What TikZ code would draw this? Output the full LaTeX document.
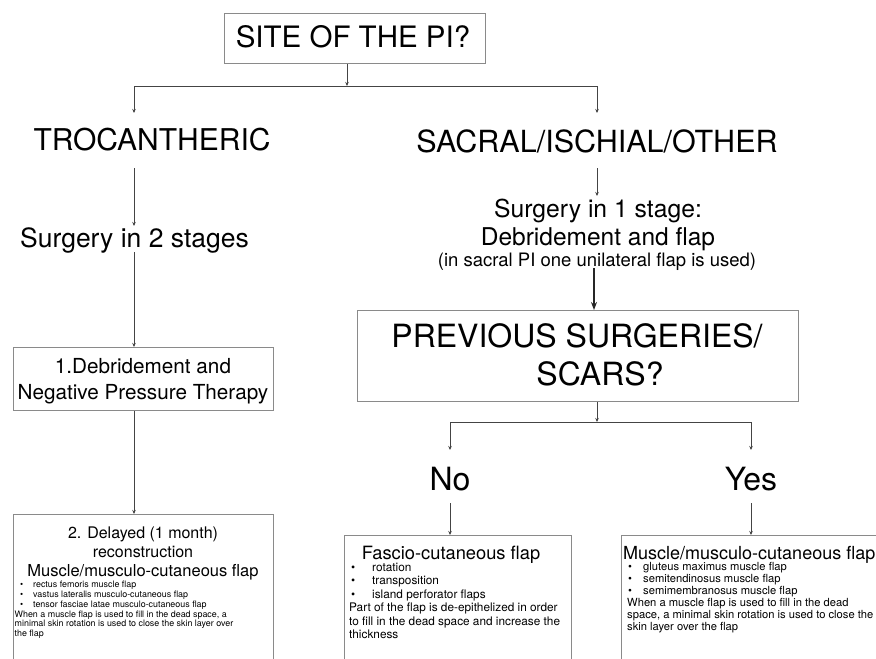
\documentclass[tikz,border=0pt]{standalone}
\usepackage{fontspec}
\setmainfont{TeX Gyre Heros}
\usetikzlibrary{arrows.meta}
\definecolor{linec}{HTML}{444444}
\definecolor{boxc}{HTML}{8A8A8A}
\tikzset{
  boxnode/.style={draw=boxc, line width=1.3pt, fill=white, inner sep=0pt},
  arr/.style={draw=linec, line width=0.9pt, -{Stealth[length=4pt,width=3.5pt]}},
  lin/.style={draw=linec, line width=0.9pt},
  bigarr/.style={draw=black!85, line width=1.4pt, -{Stealth[length=8pt,width=6pt]}},
  txt/.style={inner sep=0pt, anchor=base},
  lst/.style={inner sep=0pt, anchor=north west, align=left},
}
\newcommand{\bl}[2]{\makebox[#1][l]{\textbullet}#2}
\begin{document}
\begin{tikzpicture}[x=1pt,y=-1pt]
\useasboundingbox (0,0) rectangle (876,659);
\clip (0,0) rectangle (876,659);
\fill[white] (0,0) rectangle (876,659);

% boxes
\node[boxnode, minimum width=261pt, minimum height=50pt, anchor=north west] (site) at (224,13) {};
\node[txt, font=\fontsize{29.5}{35}\selectfont] (sitet) at (353,47) {SITE OF THE PI?};

\node[txt, font=\fontsize{30}{36}\selectfont] (troc) at (152,150) {TROCANTHERIC};
\node[txt, font=\fontsize{30.5}{36}\selectfont] (sacral) at (597,152) {SACRAL/ISCHIAL/OTHER};

\node[txt, font=\fontsize{26.5}{30}\selectfont] (surg2) at (134.5,247) {Surgery in 2 stages};
\node[txt, font=\fontsize{24.7}{29}\selectfont] (surg1) at (598,217) {Surgery in 1 stage:};
\node[txt, font=\fontsize{24.5}{29}\selectfont] (debfl) at (598,245) {Debridement and flap};
\node[txt, font=\fontsize{18.5}{22}\selectfont] (insac) at (597,266) {(in sacral PI one unilateral flap is used)};

\node[boxnode, minimum width=260pt, minimum height=63pt, anchor=north west] (b1) at (13,347) {};
\node[txt, font=\fontsize{20.7}{24}\selectfont] (b1a) at (143,373) {1.Debridement and};
\node[txt, font=\fontsize{20.7}{24}\selectfont] (b1b) at (143,399) {Negative Pressure Therapy};

\node[boxnode, minimum width=441pt, minimum height=91pt, anchor=north west] (prev) at (357,310) {};
\node[txt, font=\fontsize{32}{38}\selectfont] (preva) at (577,347) {PREVIOUS SURGERIES/};
\node[txt, font=\fontsize{32}{38}\selectfont] (prevb) at (600,385) {SCARS?};

\node[txt, font=\fontsize{32}{38}\selectfont] (no) at (450,490) {No};
\node[txt, font=\fontsize{32}{38}\selectfont] (yes) at (751,490) {Yes};

% bottom boxes (cut off by the page)
\node[boxnode, minimum width=260pt, minimum height=160pt, anchor=north west] (b2) at (13,514) {};
\node[txt, font=\fontsize{16}{19}\selectfont] (b2a) at (143,538) {2. Delayed (1 month)};
\node[txt, font=\fontsize{16}{19}\selectfont] (b2b) at (143,557) {reconstruction};
\node[txt, font=\fontsize{16.5}{19}\selectfont] (b2c) at (143,576) {Muscle/musculo-cutaneous flap};
\node[lst, font=\fontsize{8.9}{9.8}\selectfont] (b2l) at (14.5,581) {%
\hspace*{5.5pt}\bl{13pt}{rectus femoris muscle flap}\\
\hspace*{5.5pt}\bl{13pt}{vastus lateralis musculo-cutaneous flap}\\
\hspace*{5.5pt}\bl{13pt}{tensor fasciae latae musculo-cutaneous flap}\\
When a muscle flap is used to fill in the dead space, a\\
minimal skin rotation is used to close the skin layer over\\
the flap};

\node[boxnode, minimum width=227pt, minimum height=140pt, anchor=north west] (fc) at (344,535) {};
\node[txt, font=\fontsize{18.3}{22}\selectfont] (fct) at (451,559) {Fascio-cutaneous flap};
\node[lst, font=\fontsize{11.8}{13.4}\selectfont] (fcl) at (349,563) {%
\hspace*{2pt}\bl{21pt}{rotation}\\
\hspace*{2pt}\bl{21pt}{transposition}\\
\hspace*{2pt}\bl{21pt}{island perforator flaps}\\
Part of the flap is de-epithelized in order\\
to fill in the dead space and increase the\\
thickness};

\node[boxnode, minimum width=270pt, minimum height=140pt, anchor=north west] (mc) at (621,535) {};
\node[txt, font=\fontsize{18}{22}\selectfont, anchor=base west] (mct) at (623,559) {Muscle/musculo-cutaneous flap};
\node[lst, font=\fontsize{11.2}{12}\selectfont] (mcl) at (627,562) {%
\hspace*{1pt}\bl{15pt}{gluteus maximus muscle flap}\\
\hspace*{1pt}\bl{15pt}{semitendinosus muscle flap}\\
\hspace*{1pt}\bl{15pt}{semimembranosus muscle flap}\\
When a muscle flap is used to fill in the dead\\
space, a minimal skin rotation is used to close the\\
skin layer over the flap};

% connectors
\coordinate (j1) at (347,86);
\coordinate (t1) at (134,113);
\coordinate (s1) at (597,113);
\draw[arr] (j1 |- site.south) -- (j1);
\draw[arr] (j1) -| (t1);
\draw[arr] (j1) -| (s1);

\coordinate (t2a) at (134,168);
\coordinate (t2b) at (134,226);
\draw[arr] (t2a) -- (t2b);
\coordinate (t3a) at (134,252);
\draw[arr] (t3a) -- (t3a |- b1.north);
\draw[arr] (t3a |- b1.south) -- (t3a |- b2.north);

\coordinate (s2a) at (597,168);
\coordinate (s2b) at (597,196);
\draw[arr] (s2a) -- (s2b);
\coordinate (s3a) at (594,268);
\draw[bigarr] (s3a) -- (s3a |- prev.north);

\coordinate (j2) at (597,422);
\coordinate (n1) at (450,450);
\coordinate (y1) at (751,450);
\draw[arr] (j2 |- prev.south) -- (j2);
\draw[arr] (j2) -| (n1);
\draw[arr] (j2) -| (y1);
\coordinate (n2) at (450,503);
\coordinate (y2) at (751,503);
\draw[arr] (n2) -- (n2 |- fc.north);
\draw[arr] (y2) -- (y2 |- mc.north);
\end{tikzpicture}
\end{document}
